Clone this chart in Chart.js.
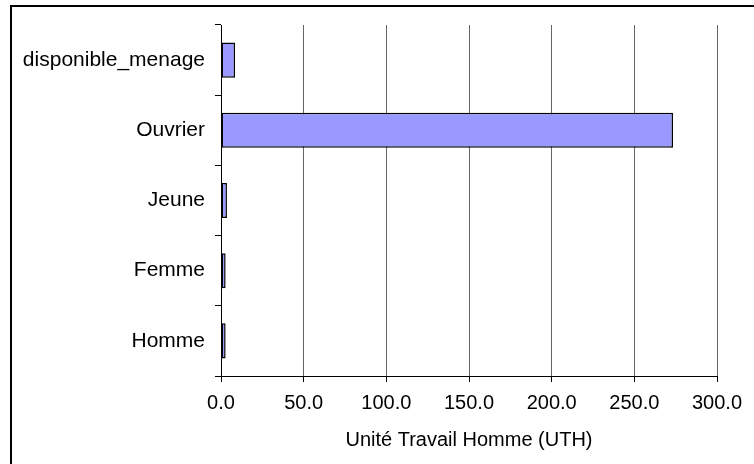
<!DOCTYPE html>
<html>
<head>
<meta charset="utf-8">
<script src="https://cdn.jsdelivr.net/npm/chart.js@4"></script>
<style>
  body { margin: 0; background: #fff; }
  #wrap { width: 754px; height: 464px; position: relative; }
</style>
</head>
<body>
<div id="wrap"><canvas id="uth-chart"></canvas></div>
<script>
// categories, top to bottom
const categories = ["disponible_menage", "Ouvrier", "Jeune", "Femme", "Homme"];
// UTH values
const uthValues = [8.5, 273.4, 3.6, 2.8, 2.8];
const xTicks = [0, 50, 100, 150, 200, 250, 300];

// outer frame like the spreadsheet chart area
const framePlugin = {
    id: "frame",
    beforeDraw(chart) {
        const ctx = chart.ctx;
        ctx.save();
        ctx.fillStyle = "#fff";
        ctx.fillRect(0, 0, chart.width, chart.height);
        ctx.strokeStyle = "#000";
        ctx.lineWidth = 2;
        ctx.strokeRect(11, 6, 760, 470);
        ctx.restore();
    }
};

Chart.defaults.font.family = "'Liberation Sans', Arial, sans-serif";
Chart.defaults.color = "#000";

new Chart("uth-chart", {
    type: "bar",
    data: {
        labels: categories,
        datasets: [{
            label: "UTH",
            data: uthValues,
            backgroundColor: "#9999FF",
            borderColor: "#000",
            borderWidth: 1.5,
            borderSkipped: false,
            barPercentage: 0.5,
            categoryPercentage: 1
        }]
    },
    options: {
        indexAxis: "y",
        responsive: true,
        maintainAspectRatio: false,
        animation: false,
        layout: { padding: { top: 25, right: 37, left: 0, bottom: 0 } },
        plugins: {
            legend: { display: false },
            tooltip: { enabled: false }
        },
        scales: {
            x: {
                min: 0,
                max: 300,
                afterBuildTicks(scale) {
                    scale.ticks = xTicks.map(v => ({ value: v }));
                },
                afterFit(scale) { scale.height = 88; },
                ticks: {
                    font: { size: 20 },
                    padding: 9,
                    callback: v => Number(v).toFixed(1)
                },
                grid: {
                    color: "#666",
                    tickColor: "#000",
                    tickLength: 6,
                    lineWidth: 1
                },
                border: { display: true, color: "#000", width: 1 },
                title: {
                    display: true,
                    text: "Unité Travail Homme (UTH)",
                    font: { size: 20 },
                    padding: { top: 0, bottom: 12 }
                }
            },
            y: {
                afterFit(scale) { scale.width = 221; },
                ticks: {
                    font: { size: 21 },
                    padding: 10
                },
                grid: {
                    offset: true,
                    drawOnChartArea: false,
                    tickColor: "#000",
                    tickLength: 6
                },
                border: { display: true, color: "#000", width: 1 }
            }
        }
    },
    plugins: [framePlugin]
});
</script>
</body>
</html>
